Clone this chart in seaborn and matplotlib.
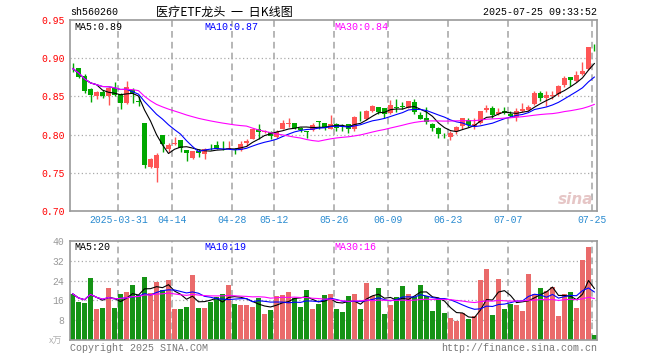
import numpy as np
import pandas as pd
import seaborn as sns
import matplotlib.pyplot as plt

sns.set_style("white")
plt.rcParams['font.family'] = ['Liberation Mono', 'Noto Sans CJK SC', 'DejaVu Sans']

"""
    DATA (read off the chart)
"""
_holidays = ['2025-04-04', '2025-05-01', '2025-05-02', '2025-05-05', '2025-06-02']
dates = pd.bdate_range('2025-03-19', '2025-07-25', freq='C', holidays=_holidays)

opens = [0.8872, 0.8868, 0.877, 0.8596, 0.8508, 0.8561, 0.850, 0.861, 0.853, 0.8412,
         0.8587, 0.8441, 0.8148, 0.7578, 0.7565, 0.799, 0.7806, 0.7877, 0.7924, 0.7793,
         0.7696, 0.7784, 0.774, 0.7812, 0.7859, 0.7815, 0.7815, 0.7808, 0.7797, 0.7885,
         0.7947, 0.8078, 0.8034, 0.8034, 0.7973, 0.8078, 0.8135, 0.8157, 0.8091, 0.8042,
         0.8061, 0.8168, 0.8148, 0.8078, 0.8144, 0.8124, 0.8144, 0.8069, 0.8216, 0.820,
         0.8311, 0.8355, 0.8342, 0.828, 0.8357, 0.8366, 0.8346, 0.8421, 0.8254, 0.8223,
         0.8135, 0.8082, 0.7995, 0.7973, 0.8047, 0.8113, 0.8192, 0.8113, 0.8157, 0.832,
         0.8346, 0.8267, 0.831, 0.8267, 0.8236, 0.8311, 0.8324, 0.8399, 0.8543, 0.8478,
         0.8499, 0.853, 0.8653, 0.875, 0.8706, 0.8794, 0.886, 0.9184]
highs = [0.894, 0.8875, 0.8794, 0.861, 0.8574, 0.8587, 0.8627, 0.8684, 0.855, 0.8706,
         0.8614, 0.850, 0.8148, 0.7696, 0.7753, 0.799, 0.7894, 0.7965, 0.7924, 0.7793,
         0.7784, 0.7806, 0.7828, 0.7872, 0.7916, 0.7911, 0.7916, 0.7828, 0.7916, 0.7947,
         0.8091, 0.8135, 0.8055, 0.8047, 0.806, 0.8188, 0.8214, 0.8157, 0.8104, 0.8047,
         0.8148, 0.8179, 0.8148, 0.8254, 0.8148, 0.8135, 0.8144, 0.8245, 0.8311, 0.832,
         0.8385, 0.8355, 0.8342, 0.8451, 0.8465, 0.8429, 0.8443, 0.8465, 0.8298, 0.8355,
         0.8157, 0.8104, 0.8017, 0.8047, 0.8113, 0.8214, 0.8214, 0.8223, 0.8311, 0.8385,
         0.8377, 0.8342, 0.8355, 0.8311, 0.8342, 0.8412, 0.8385, 0.8574, 0.8574, 0.8574,
         0.8574, 0.8649, 0.8763, 0.875, 0.8838, 0.8947, 0.9145, 0.9184]
lows = [0.882, 0.874, 0.8543, 0.843, 0.8464, 0.8473, 0.8385, 0.850, 0.8333, 0.840,
        0.842, 0.8377, 0.7565, 0.7565, 0.7376, 0.777, 0.777, 0.7868, 0.777, 0.7652,
        0.7687, 0.771, 0.7683, 0.7797, 0.7806, 0.7797, 0.7806, 0.774, 0.7784, 0.785,
        0.7938, 0.7947, 0.8015, 0.7947, 0.796, 0.8069, 0.8104, 0.8078, 0.8034, 0.7955,
        0.8047, 0.8078, 0.806, 0.8069, 0.8047, 0.8047, 0.8025, 0.8047, 0.8179, 0.8192,
        0.8298, 0.8267, 0.8223, 0.8267, 0.8298, 0.8333, 0.8342, 0.8267, 0.8201, 0.8135,
        0.8047, 0.7951, 0.7951, 0.7925, 0.8003, 0.8078, 0.8104, 0.8078, 0.8135, 0.8298,
        0.8223, 0.8254, 0.8267, 0.8236, 0.8179, 0.8298, 0.8311, 0.8385, 0.8442, 0.8377,
        0.8464, 0.850, 0.8618, 0.864, 0.8693, 0.8781, 0.8846, 0.9088]
closes = [0.8866, 0.875, 0.8574, 0.8517, 0.8561, 0.8508, 0.861, 0.8517, 0.8412, 0.8618,
          0.8543, 0.8432, 0.7608, 0.7687, 0.7727, 0.7872, 0.7868, 0.7886, 0.7828, 0.7753,
          0.7784, 0.7762, 0.7815, 0.7806, 0.7815, 0.781, 0.7828, 0.7802, 0.7872, 0.7911,
          0.8078, 0.8034, 0.8042, 0.7982, 0.8034, 0.8157, 0.815, 0.8091, 0.8061, 0.8038,
          0.8122, 0.8165, 0.8091, 0.8135, 0.8091, 0.812, 0.8078, 0.8236, 0.8212, 0.8311,
          0.8368, 0.8302, 0.8267, 0.8385, 0.8353, 0.8362, 0.8434, 0.8298, 0.821, 0.817,
          0.8082, 0.8003, 0.799, 0.8017, 0.8104, 0.8214, 0.8122, 0.8135, 0.8311, 0.8346,
          0.8254, 0.8298, 0.828, 0.8245, 0.8311, 0.8333, 0.8364, 0.8543, 0.8473, 0.8517,
          0.8517, 0.864, 0.8737, 0.8719, 0.878, 0.8838, 0.9145, 0.918]
volumes = [18.7, 15.3, 14.9, 24.9, 12.5, 12.9, 20.9, 12.9, 18.5, 19.3,
           22.1, 18.1, 25.3, 18.9, 23.3, 20.1, 24.1, 12.5, 12.5, 13.3,
           26.1, 12.9, 12.9, 15.3, 17.3, 18.5, 22.1, 14.5, 14.1, 14.1,
           13.3, 16.9, 10.5, 12.1, 17.7, 18.1, 19.3, 16.9, 13.3, 20.1,
           12.5, 14.5, 18.1, 18.5, 12.5, 11.3, 17.7, 18.5, 12.5, 22.9,
           17.7, 20.9, 10.5, 14.1, 17.3, 21.7, 18.5, 17.3, 22.1, 17.6,
           11.7, 16.5, 10.9, 8.9, 7.7, 10.9, 8.5, 9.7, 24.1, 28.5,
           10.1, 24.5, 12.5, 14.5, 14.1, 11.7, 26.5, 18.5, 20.9, 19.7,
           21.3, 9.7, 18.5, 19.3, 12.9, 32.1, 37.3, 2.1]

tick_dates = ['2025-03-31', '2025-04-14', '2025-04-28', '2025-05-12', '2025-05-26',
              '2025-06-09', '2025-06-23', '2025-07-07', '2025-07-25']
tick_labels = ['2025-03-31', '04-14', '04-28', '05-12', '05-26', '06-09', '06-23', '07-07', '07-25']
price_ticks = [0.70, 0.75, 0.80, 0.85, 0.90, 0.95]
vol_ticks = [8, 16, 24, 32, 40]
price_ma_labels = ['MA5:0.89', 'MA10:0.87', 'MA30:0.84']
vol_ma_labels = ['MA5:20', 'MA10:19', 'MA30:16']
ma_windows = [5, 10, 30]

"""
    PREPARE
"""
RED, GREEN = '#ff5555', '#00a800'
MA_COLORS = ['black', '#0000ff', '#ff00ff']
GRAY = '#999999'

df = pd.DataFrame({'date': dates, 'open': opens, 'high': highs, 'low': lows,
                   'close': closes, 'vol': volumes})
df['idx'] = np.arange(len(df))
df['dir'] = np.where(df['close'] >= df['open'], 'up', 'down')
df['colour'] = np.where(df['dir'] == 'up', RED, GREEN)
for w in ma_windows:
    df['ma%d' % w] = df['close'].rolling(w, min_periods=1).mean()
    df['vma%d' % w] = df['vol'].rolling(w, min_periods=1).mean()
tick_idx = [int(df.index[df['date'] == pd.Timestamp(d)][0]) for d in tick_dates]

"""
    FIGURE
"""
W, H = 660, 360
fig = plt.figure(figsize=(W / 100, H / 100), dpi=100)


def box(l, t, r, b):
    return [l / W, 1 - b / H, (r - l) / W, (b - t) / H]


ax = fig.add_axes(box(70, 20, 597, 211))
axv = fig.add_axes(box(70, 240.7, 597, 340.3))

for a in (ax, axv):
    a.set_xlim(-0.42, len(df) - 0.58)
    for s in a.spines.values():
        s.set_color(GRAY)
        s.set_linewidth(1.2)
    for t in tick_idx:
        a.axvline(t - 0.35, color='#aaaaaa', lw=1.2, ls=(0, (4, 2.5)), zorder=0)

# price panel
ax.set_ylim(0.70, 0.95)
for y in price_ticks[1:-1]:
    ax.axhline(y, color='#aaaaaa', lw=0.9, ls=(0, (1, 2)), zorder=0)
ax.vlines(df['idx'], df['low'], df['high'], colors=df['colour'], lw=1, zorder=2)
body_bottom = np.minimum(df['open'], df['close'])
body_h = np.maximum(np.abs(df['close'] - df['open']), 0.0008)
ax.bar(df['idx'], body_h, bottom=body_bottom, width=0.8, color=df['colour'], lw=0, zorder=3)
for w, c in zip(ma_windows, MA_COLORS):
    sns.lineplot(data=df, x='idx', y='ma%d' % w, color=c, lw=0.8, estimator=None,
                 errorbar=None, ax=ax, zorder=4)
ax.set_yticks(price_ticks)
ax.set_yticklabels(['%.2f' % v for v in price_ticks], color='red', fontsize=7)
ax.set_xticks([t - 0.35 for t in tick_idx])
ax.set_xticklabels(tick_labels, color='#2a8bd0', fontsize=7)
ax.tick_params(length=0, pad=3)
ax.tick_params(axis='y', pad=4)
ax.set_xlabel('')
ax.set_ylabel('')

# volume panel
axv.set_ylim(0, 40)
for y in vol_ticks[:-1]:
    axv.axhline(y, color='#aaaaaa', lw=0.9, ls=(0, (1, 2)), zorder=0)
sns.barplot(data=df, x='idx', y='vol', hue='dir', palette={'up': RED, 'down': GREEN},
            dodge=False, native_scale=True, width=0.84, errorbar=None, linewidth=0,
            legend=False, ax=axv, zorder=2)
for w, c in zip(ma_windows, MA_COLORS):
    sns.lineplot(data=df, x='idx', y='vma%d' % w, color=c, lw=0.8, estimator=None,
                 errorbar=None, ax=axv, zorder=4)
axv.set_xlim(-0.42, len(df) - 0.58)
axv.set_yticks(vol_ticks)
axv.set_yticklabels([str(v) for v in vol_ticks], color=GRAY, fontsize=7)
axv.set_xticks([])
axv.tick_params(length=0, pad=4)
axv.set_xlabel('')
axv.set_ylabel('')

"""
    TEXTS
"""
def ftext(x, y, s, **kw):
    fig.text(x / W, 1 - y / H, s, va='center', **kw)


ftext(70, 12, 'sh560260', fontsize=7.2, color='black')
ftext(224, 12, '医疗ETF龙头  一  日K线图', fontsize=8.7, ha='center', color='black',
      family=['Noto Sans CJK SC'])
ftext(597, 12, '2025-07-25 09:33:52', fontsize=7.2, ha='right', color='black')
for x, s, c in zip([74, 204, 334], price_ma_labels, MA_COLORS):
    ftext(x, 27, s, fontsize=7.2, color=c)
for x, s, c in zip([74, 204, 334], vol_ma_labels, MA_COLORS):
    ftext(x, 247, s, fontsize=7.2, color=c)
ftext(49, 341, 'x万', fontsize=6.5, color='#b0b0b0', family=['Noto Sans CJK SC'])
ftext(70, 348, 'Copyright 2025 SINA.COM', fontsize=7.2, color='#777777')
ftext(597, 348, 'http://finance.sina.com.cn', fontsize=7.2, ha='right', color='#777777')
ftext(576, 200, 'sina', fontsize=11, ha='center', color='#e6c6c6', style='italic',
      weight='bold', family=['DejaVu Sans'])

plt.savefig('out.png', dpi=100)
